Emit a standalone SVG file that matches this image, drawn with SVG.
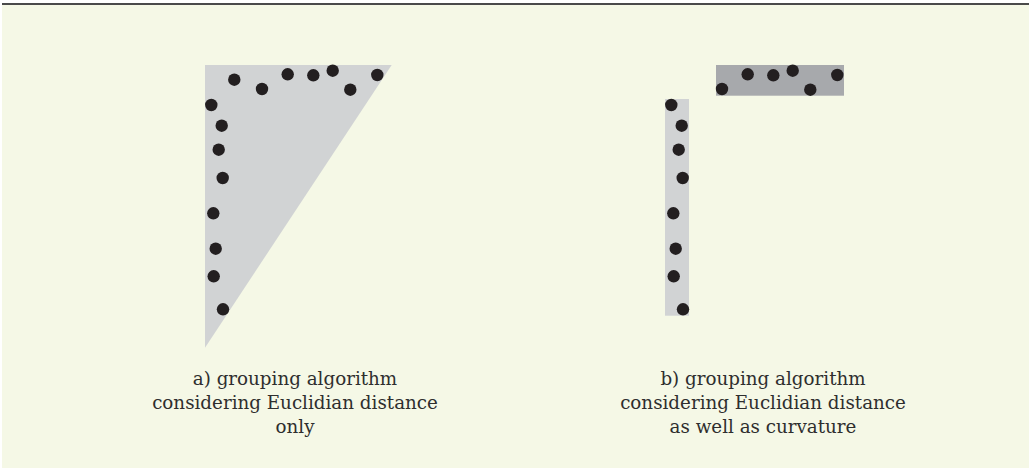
<svg xmlns="http://www.w3.org/2000/svg" width="1029" height="468" viewBox="0 0 1029 468">
  <style>
    .dot { fill: #231f20; }
    .lbl { font-family: "DejaVu Serif", "Liberation Serif", serif; font-size: 18.3px; fill: #2e2e2e; text-anchor: middle; }
  </style>
  <defs>
    <circle id="d" r="6.2" class="dot"/>
  </defs>
  <rect x="2" y="4" width="1027" height="464" fill="#f5f8e6"/>
  <rect x="2" y="3" width="1027" height="2" fill="#4a4a4a"/>

  <g id="panel-a">
    <polygon points="205,65 391.7,65 205,347.7" fill="#d1d3d4"/>
    <g>
      <use href="#d" x="234.3" y="79.7"/>
      <use href="#d" x="262" y="89"/>
      <use href="#d" x="287.7" y="74.3"/>
      <use href="#d" x="313.3" y="75.3"/>
      <use href="#d" x="332.7" y="70.7"/>
      <use href="#d" x="350.3" y="89.7"/>
      <use href="#d" x="377.3" y="75"/>
      <use href="#d" x="211.3" y="105"/>
      <use href="#d" x="221.7" y="125.7"/>
      <use href="#d" x="218.7" y="149.7"/>
      <use href="#d" x="222.7" y="178"/>
      <use href="#d" x="213.3" y="213.3"/>
      <use href="#d" x="215.7" y="248.7"/>
      <use href="#d" x="213.7" y="276.3"/>
      <use href="#d" x="223" y="309.3"/>
    </g>
    <text class="lbl" x="295" y="385">a) grouping algorithm</text>
    <text class="lbl" x="295" y="409">considering Euclidian distance</text>
    <text class="lbl" x="295" y="433">only</text>
  </g>

  <g id="panel-b">
    <rect x="716" y="65" width="128" height="30.7" fill="#a7a9ac"/>
    <rect x="665" y="99" width="24" height="216.7" fill="#d1d3d4"/>
    <g>
      <use href="#d" x="722" y="89"/>
      <use href="#d" x="747.7" y="74.3"/>
      <use href="#d" x="773.3" y="75.3"/>
      <use href="#d" x="792.7" y="70.7"/>
      <use href="#d" x="810.3" y="89.7"/>
      <use href="#d" x="837.3" y="75"/>
      <use href="#d" x="671.3" y="105"/>
      <use href="#d" x="681.7" y="125.7"/>
      <use href="#d" x="678.7" y="149.7"/>
      <use href="#d" x="682.7" y="178"/>
      <use href="#d" x="673.3" y="213.3"/>
      <use href="#d" x="675.7" y="248.7"/>
      <use href="#d" x="673.7" y="276.3"/>
      <use href="#d" x="683" y="309.3"/>
    </g>
    <text class="lbl" x="763" y="385">b) grouping algorithm</text>
    <text class="lbl" x="763" y="409">considering Euclidian distance</text>
    <text class="lbl" x="763" y="433">as well as curvature</text>
  </g>

  <g id="connectors"/>
</svg>
